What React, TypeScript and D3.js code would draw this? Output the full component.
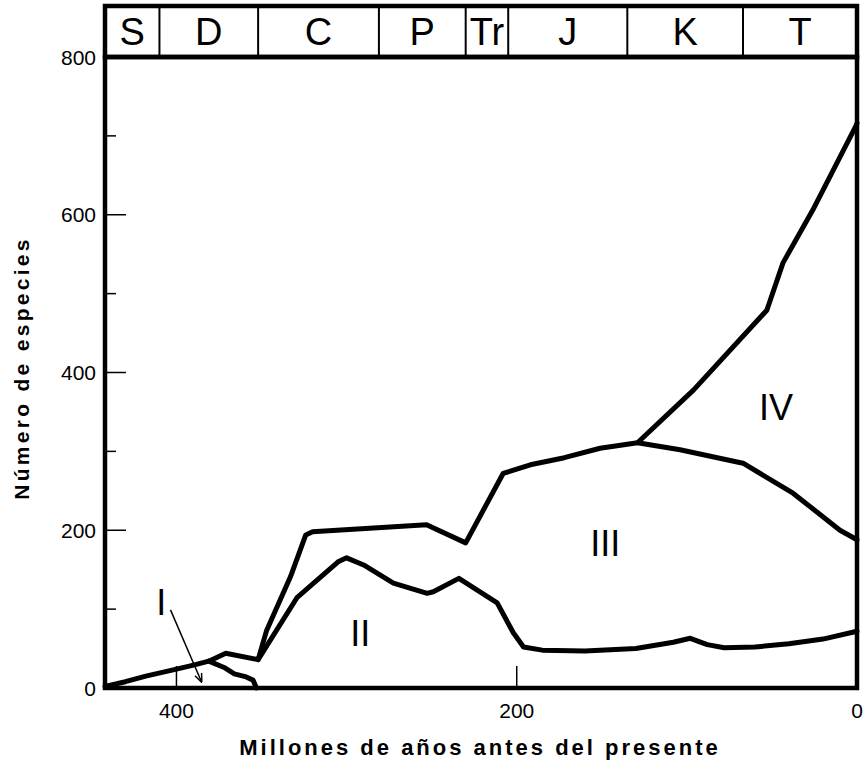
import * as d3 from "d3";

const FONT = "'Liberation Sans', Arial, Helvetica, sans-serif";

// geological periods, boundaries in millions of years (old time scale)
const periodNames = ["S", "D", "C", "P", "Tr", "J", "K", "T"];
const periodBounds = [442, 410, 352, 281, 230, 205, 135, 67, 0];

const xTicks = [400, 200, 0];
const yMajor = [200, 400, 600];
const yMinor = [100, 300, 500, 700];
const yLabels = [0, 200, 400, 600, 800];

// [Ma, species]
const envelope: [number, number][] = [
  [442, 2], [430, 8], [418, 15], [400, 24], [390, 29], [381, 34], [371, 44], [352, 36],
  [347, 73], [333, 141], [324, 194], [320, 198], [253, 207], [230, 184],
  [208, 272], [192, 283], [172, 292], [151, 304], [129, 311], [96, 378],
  [53, 479], [43.5, 539], [26, 606], [1, 711], [0, 716],
];
const faunaIII: [number, number][] = [
  [129, 311], [104, 302], [67, 285], [37.6, 247], [10, 200], [0, 188],
];
const faunaII: [number, number][] = [
  [352, 36], [329, 115], [305, 160], [300, 165], [290, 156], [272.5, 133],
  [252.6, 120], [249, 122], [234, 139], [211.5, 108], [202, 70], [196, 52],
  [185, 48], [160, 47], [130, 50], [108, 58], [98, 63], [88, 55], [78, 51],
  [60, 52], [40, 56], [20, 62], [0, 72],
];
const faunaI: [number, number][] = [
  [381, 34], [372, 26], [366, 18], [359, 14], [355, 10], [353, 0],
];

// region labels [text, Ma, species]
const regionLabels: [string, number, number][] = [
  ["I", 409, 109], ["II", 292, 70], ["III", 148, 184], ["IV", 47.6, 356],
];
const arrowFrom: [number, number] = [403.5, 99];
const arrowTo: [number, number] = [385.3, 8];

export default function App() {
  const x = d3.scaleLinear().domain([442, 0]).range([105, 857]);
  const y = d3.scaleLinear().domain([0, 800]).range([688, 57]);
  const line = d3.line<[number, number]>().x((d) => x(d[0])).y((d) => y(d[1]));
  const bandTop = 6;
  const x0 = x(442), x1 = x(0), yTop = y(800), yBot = y(0);

  return (
    <svg width={863} height={763} style={{ position: "absolute", left: 0, top: 0 }}
      fontFamily={FONT}>
      <defs>
        <marker id="arr" viewBox="0 0 10 10" refX="9" refY="5" markerWidth="9" markerHeight="9"
          orient="auto" markerUnits="userSpaceOnUse">
          <path d="M0,1 L10,5 L0,9" fill="none" stroke="#000" strokeWidth={1.6} />
        </marker>
      </defs>

      {/* period band */}
      <rect x={x0} y={bandTop} width={x1 - x0} height={yTop - bandTop} fill="none" stroke="#000" strokeWidth={4.5} />
      {periodBounds.slice(1, -1).map((b) => (
        <line key={b} x1={x(b)} x2={x(b)} y1={bandTop} y2={yTop} stroke="#000" strokeWidth={2} />
      ))}
      {periodNames.map((n, i) => (
        <text key={n} x={(x(periodBounds[i]) + x(periodBounds[i + 1])) / 2} y={(bandTop + yTop) / 2 + 13.5}
          textAnchor="middle" fontSize={38}>{n}</text>
      ))}

      {/* plot frame */}
      <rect x={x0} y={yTop} width={x1 - x0} height={yBot - yTop} fill="none" stroke="#000" strokeWidth={4.5} />

      {/* y ticks */}
      {yMajor.map((v) => (
        <line key={"M" + v} x1={x0} x2={x0 + 21} y1={y(v)} y2={y(v)} stroke="#000" strokeWidth={1.5} />
      ))}
      {yMinor.map((v) => (
        <line key={"m" + v} x1={x0} x2={x0 + 11} y1={y(v)} y2={y(v)} stroke="#000" strokeWidth={1.5} />
      ))}
      {yLabels.map((v) => (
        <text key={"l" + v} x={96} y={y(v) + 7.5} textAnchor="end" fontSize={21}>{v}</text>
      ))}

      {/* x ticks */}
      {xTicks.slice(0, -1).map((v) => (
        <line key={"x" + v} x1={x(v)} x2={x(v)} y1={yBot} y2={yBot - 22} stroke="#000" strokeWidth={1.5} />
      ))}
      {xTicks.map((v) => (
        <text key={"xl" + v} x={x(v)} y={718} textAnchor="middle" fontSize={21}>{v}</text>
      ))}

      {/* curves */}
      {[envelope, faunaIII, faunaII, faunaI].map((s, i) => (
        <path key={i} d={line(s) ?? ""} fill="none" stroke="#000" strokeWidth={5}
          strokeLinejoin="round" strokeLinecap="round" />
      ))}

      {/* annotations */}
      {regionLabels.map(([t, a, v]) => (
        <text key={t} x={x(a)} y={y(v) + 13} textAnchor="middle" fontSize={36}>{t}</text>
      ))}
      <line x1={x(arrowFrom[0])} y1={y(arrowFrom[1])} x2={x(arrowTo[0])} y2={y(arrowTo[1])}
        stroke="#000" strokeWidth={1.5} markerEnd="url(#arr)" />

      {/* axis titles */}
      <text x={(x0 + x1) / 2 - 1} y={755} textAnchor="middle" fontSize={22} fontWeight="bold"
        letterSpacing={3}>Millones de años antes del presente</text>
      <text transform="translate(29,368) rotate(-90)" textAnchor="middle" fontSize={21} fontWeight="bold"
        letterSpacing={3.3}>Número de especies</text>
    </svg>
  );
}
